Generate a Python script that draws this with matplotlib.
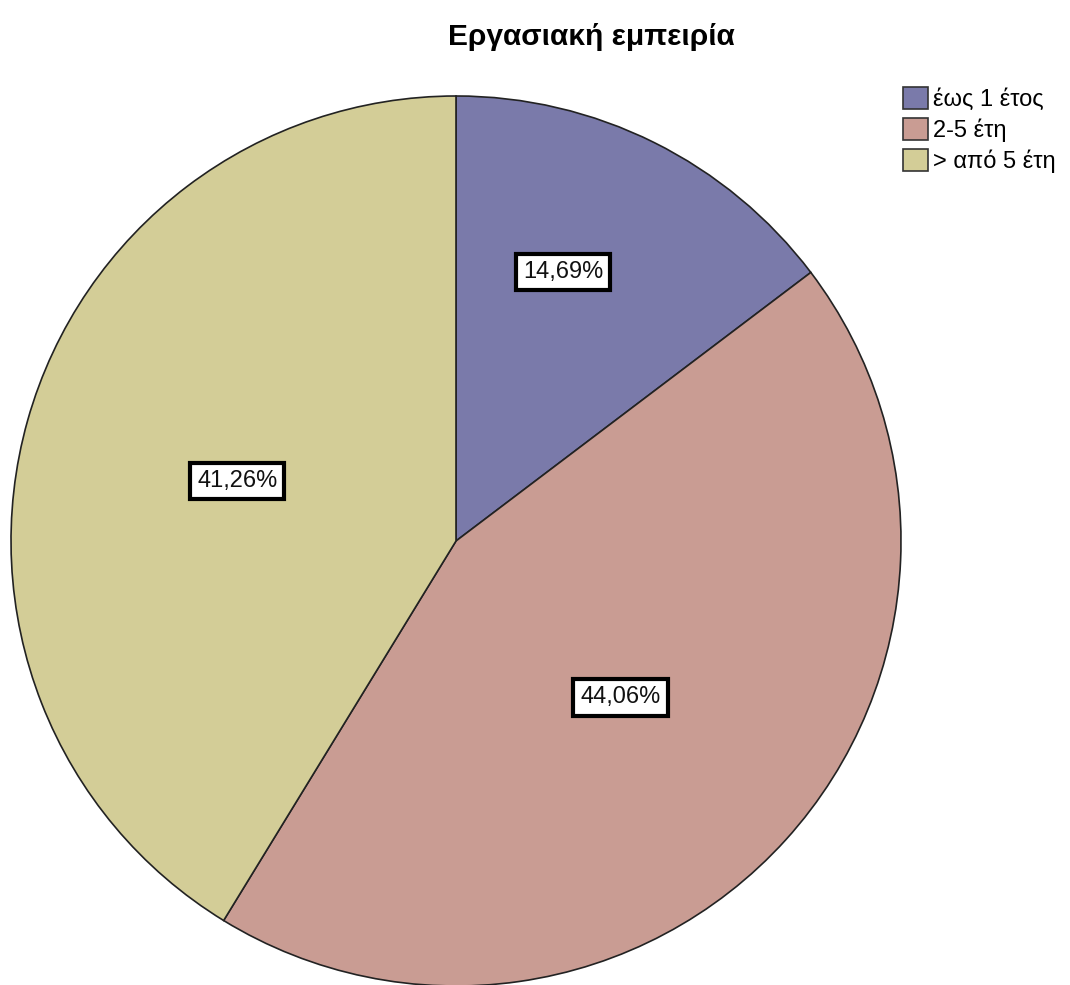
import matplotlib.pyplot as plt
import matplotlib.patches as mpatches
import numpy as np

plt.rcParams['font.family'] = ['Liberation Sans', 'DejaVu Sans']

title = "Εργασιακή εμπειρία"
categories = ["έως 1 έτος", "2-5 έτη", "> από 5 έτη"]
percents = [14.69, 44.06, 41.26]
colors = ["#7a7aaa", "#c99c93", "#d3cd97"]
# label placement per slice: radius fraction and angle offset (deg) from the slice middle
label_dist = [0.65, 0.51, 0.51]
label_turn = [4.7, -1.4, 0.4]

W, H = 1070, 985
fig = plt.figure(figsize=(W / 100, H / 100), dpi=100)
ax = fig.add_axes([0, 0, 1, 1])

cx, cy, r = 456, H - 541, 445
wedges, _ = ax.pie(percents, colors=colors, startangle=90, counterclock=False,
                   center=(cx, cy), radius=r, frame=True,
                   wedgeprops=dict(edgecolor='#222222', linewidth=1.2))
ax.set_xlim(0, W)
ax.set_ylim(0, H)
ax.set_aspect('equal')
ax.axis('off')

for w, p, d, t in zip(wedges, percents, label_dist, label_turn):
    ang = np.deg2rad((w.theta1 + w.theta2) / 2 + t)
    x = cx + d * r * np.cos(ang)
    y = cy + d * r * np.sin(ang)
    ax.text(x, y, f"{p:.2f}%".replace('.', ','), ha='center', va='center',
            fontsize=17, color='#111111',
            bbox=dict(boxstyle='square,pad=0.3', facecolor='white',
                      edgecolor='black', linewidth=3))

fig.text(591 / W, 1 - 37 / H, title, ha='center', va='center',
         fontsize=21.5, fontweight='bold')

handles = [mpatches.Patch(facecolor=c, edgecolor='#333333', linewidth=1.2)
           for c in colors]
fig.legend(handles, categories, loc='upper left',
           bbox_to_anchor=(891 / W, 1 - 75 / H), frameon=False,
           fontsize=17, handlelength=1.07, handleheight=1.07,
           handletextpad=0.2, labelspacing=0.3, borderpad=0)

fig.savefig("out.png", dpi=100)
